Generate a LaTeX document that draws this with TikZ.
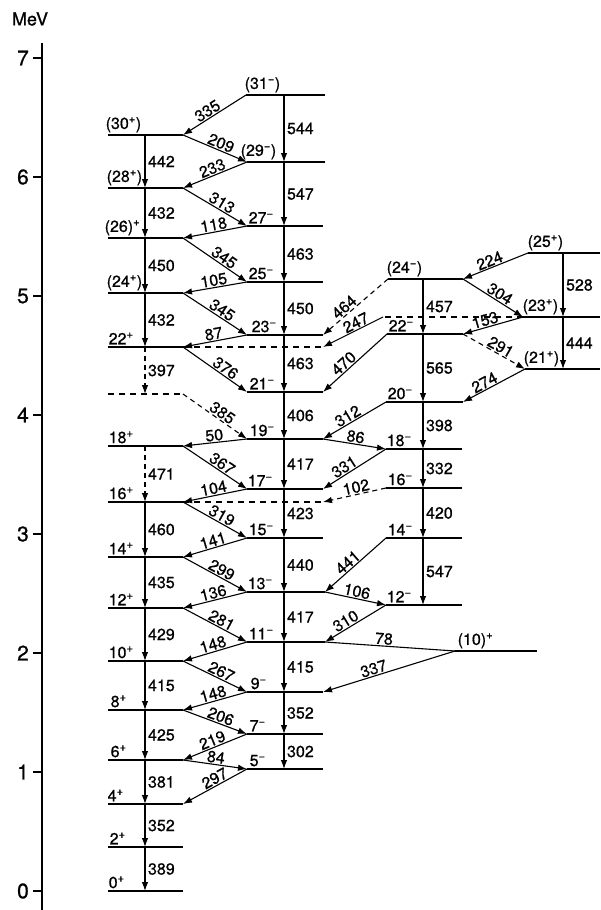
\documentclass[tikz,border=0pt]{standalone}
\usepackage{fontspec}
\setmainfont{TeX Gyre Heros}[FakeBold=0.8]
\usetikzlibrary{arrows.meta}
\newcommand\Pp{\textsuperscript{+}}
\newcommand\Mm{\textsuperscript{\char"2212}}
% name, xleft, xright, xvertical, y, label, label x
\newcommand\lv[7]{%
  \coordinate (#1L) at (#2,#5);
  \coordinate (#1R) at (#3,#5);
  \coordinate (#1V) at (#4,#5);
  \draw[lev] (#1L) -- (#1R);
  \node[el, anchor=south west] (#1t) at (#7,#5-2) {#6};
}
\begin{document}
\begin{tikzpicture}[x=1pt,y=-1pt,
  lev/.style={line width=1.5pt},
  tr/.style={line width=1.1pt,-{Latex[length=9pt,width=6.5pt]}},
  dtr/.style={tr,dash pattern=on 5pt off 4pt},
  dlev/.style={line width=1.3pt,dash pattern=on 6pt off 5pt},
  pl/.style={line width=1.1pt},
  el/.style={font=\fontsize{16}{18}\selectfont,inner sep=0.5pt},
  lab/.style={el,sloped,above,inner sep=1pt},
  vl/.style={el,right,xshift=2pt},
  tick/.style={line width=1.4pt},
  ax/.style={font=\fontsize{21}{23}\selectfont,inner sep=1pt,anchor=east}
]
\useasboundingbox (0,0) rectangle (600,910);
% axis
\coordinate (axT) at (42,43);
\coordinate (axB) at (42,910);
\draw[line width=2.2pt] (axT) -- (axB);
\node[font=\fontsize{18}{20}\selectfont,inner sep=0pt] (mev) at (30,19) {MeV};
\foreach \v in {0,...,7}{
  \coordinate (t\v) at (42,891-119*\v);
  \draw[tick] (t\v) -- ++(-9,0);
  \node[ax] (tl\v) at (30,891-119*\v) {\v};
}
% column A
\lv{A0}{108}{183}{145}{891}{0\Pp}{108}
\lv{A2}{108}{183}{145}{847}{2\Pp}{109}
\lv{A4}{108}{183}{145}{804}{4\Pp}{107}
\lv{A6}{108}{183}{145}{760}{6\Pp}{110}
\lv{A8}{108}{183}{145}{710}{8\Pp}{110}
\lv{A10}{108}{183}{145}{661}{10\Pp}{108}
\lv{A12}{108}{183}{145}{608}{12\Pp}{108}
\lv{A14}{108}{183}{145}{557}{14\Pp}{108}
\lv{A16}{108}{183}{145}{502}{16\Pp}{108}
\lv{A18}{108}{183}{145}{446}{18\Pp}{108}
\lv{A22}{108}{183}{145}{347}{22\Pp}{108}
\lv{A24}{108}{183}{145}{293}{(24\Pp)}{106}
\lv{A26}{108}{183}{145}{238}{(26)\Pp}{104}
\lv{A28}{108}{183}{145}{188}{(28\Pp)}{106}
\lv{A30}{108}{183}{145}{135}{(30\Pp)}{105}
\coordinate (A20L) at (108,394);
\coordinate (A20R) at (183,394);
\coordinate (A20V) at (145,394);
\draw[dlev] (A20L) -- (A20R);
\coordinate (A22X) at (323,347);
\coordinate (A16X) at (323,502);
\draw[dlev] (A22R) -- (A22X);
\draw[dlev] (A16R) -- (A16X);
% column B
\lv{B5}{247}{323}{284}{769}{5\Mm}{249}
\lv{B7}{247}{323}{284}{734}{7\Mm}{249}
\lv{B9}{247}{323}{284}{692}{9\Mm}{250}
\lv{B11}{247}{325}{284}{642}{11\Mm}{248}
\lv{B13}{247}{325}{284}{592}{13\Mm}{247}
\lv{B15}{247}{323}{284}{538}{15\Mm}{248}
\lv{B17}{247}{323}{284}{489}{17\Mm}{247}
\lv{B19}{247}{323}{284}{439}{19\Mm}{249}
\lv{B21}{247}{323}{284}{392}{21\Mm}{249}
\lv{B23}{247}{323}{284}{335}{23\Mm}{251}
\lv{B25}{247}{323}{284}{282}{25\Mm}{248}
\lv{B27}{247}{323}{284}{226}{27\Mm}{248}
\lv{B29}{247}{325}{284}{162}{(29\Mm)}{240}
\lv{B31}{246}{325}{284}{95}{(31\Mm)}{244}
% column C
\lv{C12}{386}{462}{423}{605}{12\Mm}{386}
\lv{C14}{386}{462}{423}{538}{14\Mm}{387}
\lv{C16}{386}{462}{423}{488}{16\Mm}{387}
\lv{C18}{386}{462}{423}{449}{18\Mm}{386}
\lv{C20}{386}{463}{423}{402}{20\Mm}{387}
\lv{C22}{387}{463}{423}{334}{22\Mm}{388}
\lv{C24}{388}{463}{423}{279}{(24\Mm)}{386}
% column D
\lv{D21}{525}{600}{563}{369}{(21\Pp)}{523}
\lv{D23}{523}{600}{563}{317}{(23\Pp)}{522}
\lv{D25}{528}{600}{563}{253}{(25\Pp)}{527}
\coordinate (D23X) at (383,317);
\draw[dlev] (D23L) -- (D23X);
% (10)+
\lv{E10}{455}{537}{495}{651}{(10)\Pp}{457}
% vertical transitions, column A
\draw[tr] (A2V) -- node[vl]{389} (A0V);
\draw[tr] (A4V) -- node[vl]{352} (A2V);
\draw[tr] (A6V) -- node[vl]{381} (A4V);
\draw[tr] (A8V) -- node[vl]{425} (A6V);
\draw[tr] (A10V) -- node[vl]{415} (A8V);
\draw[tr] (A12V) -- node[vl]{429} (A10V);
\draw[tr] (A14V) -- node[vl]{435} (A12V);
\draw[tr] (A16V) -- node[vl]{460} (A14V);
\draw[dtr] (A18V) -- node[vl]{471} (A16V);
\draw[dtr] (A22V) -- node[vl]{397} (A20V);
\draw[tr] (A24V) -- node[vl]{432} (A22V);
\draw[tr] (A26V) -- node[vl]{450} (A24V);
\draw[tr] (A28V) -- node[vl]{432} (A26V);
\draw[tr] (A30V) -- node[vl]{442} (A28V);
% vertical transitions, column B
\draw[tr] (B7V) -- node[vl]{302} (B5V);
\draw[tr] (B9V) -- node[vl]{352} (B7V);
\draw[tr] (B11V) -- node[vl]{415} (B9V);
\draw[tr] (B13V) -- node[vl]{417} (B11V);
\draw[tr] (B15V) -- node[vl]{440} (B13V);
\draw[tr] (B17V) -- node[vl]{423} (B15V);
\draw[tr] (B19V) -- node[vl]{417} (B17V);
\draw[tr] (B21V) -- node[vl]{406} (B19V);
\draw[tr] (B23V) -- node[vl]{463} (B21V);
\draw[tr] (B25V) -- node[vl]{450} (B23V);
\draw[tr] (B27V) -- node[vl]{463} (B25V);
\draw[tr] (B29V) -- node[vl]{547} (B27V);
\draw[tr] (B31V) -- node[vl]{544} (B29V);
% vertical transitions, column C
\draw[tr] (C14V) -- node[vl]{547} (C12V);
\draw[tr] (C16V) -- node[vl]{420} (C14V);
\draw[tr] (C18V) -- node[vl]{332} (C16V);
\draw[tr] (C20V) -- node[vl]{398} (C18V);
\draw[tr] (C22V) -- node[vl]{565} (C20V);
\draw[tr] (C24V) -- node[vl]{457} (C22V);
% vertical transitions, column D
\draw[tr] (D25V) -- node[vl]{528} (D23V);
\draw[tr] (D23V) -- node[vl]{444} (D21V);
% A <-> B crossings
\draw[tr] (B5L) -- node[lab,pos=0.45]{297} (A4R);
\draw[tr] (A6R) -- node[lab]{84} (B5L);
\draw[tr] (B7L) -- node[lab]{219} (A6R);
\draw[tr] (A8R) -- node[lab,pos=0.55]{206} (B7L);
\draw[tr] (B9L) -- node[lab]{148} (A8R);
\draw[tr] (A10R) -- node[lab,pos=0.55]{267} (B9L);
\draw[tr] (B11L) -- node[lab]{148} (A10R);
\draw[tr] (A12R) -- node[lab,pos=0.55]{281} (B11L);
\draw[tr] (B13L) -- node[lab]{136} (A12R);
\draw[tr] (A14R) -- node[lab,pos=0.55]{299} (B13L);
\draw[tr] (B15L) -- node[lab]{141} (A14R);
\draw[tr] (A16R) -- node[lab,pos=0.55]{319} (B15L);
\draw[tr] (B17L) -- node[lab]{104} (A16R);
\draw[tr] (A18R) -- node[lab,pos=0.55]{367} (B17L);
\draw[tr] (B19L) -- node[lab,pos=0.5]{50} (A18R);
\draw[dtr] (A20R) -- node[lab,pos=0.55]{385} (B19L);
\draw[tr] (A22R) -- node[lab,pos=0.6]{376} (B21L);
\draw[tr] (B23L) -- node[lab]{87} (A22R);
\draw[tr] (A24R) -- node[lab,pos=0.55]{345} (B23L);
\draw[tr] (B25L) -- node[lab]{105} (A24R);
\draw[tr] (A26R) -- node[lab,pos=0.58]{345} (B25L);
\draw[tr] (B27L) -- node[lab]{118} (A26R);
\draw[tr] (A28R) -- node[lab,pos=0.55]{313} (B27L);
\draw[tr] (B29L) -- node[lab]{233} (A28R);
\draw[tr] (A30R) -- node[lab,pos=0.55]{209} (B29L);
\draw[tr] (B31L) -- node[lab,pos=0.55]{335} (A30R);
% B <-> C crossings
\draw[dtr] (C24L) -- node[lab,pos=0.6]{464} (B23R);
\draw[tr] (D23X) -- node[lab,pos=0.4]{247} (A22X);
\draw[tr] (C22L) -- node[lab,pos=0.6]{470} (B21R);
\draw[tr] (C20L) -- node[lab,pos=0.55]{312} (B19R);
\draw[tr] (B19R) -- node[lab,pos=0.5]{86} (C18L);
\draw[tr] (C18L) -- node[lab,pos=0.6]{331} (B17R);
\draw[dtr] (C16L) -- node[lab,pos=0.45]{102} (A16X);
\draw[tr] (C14L) -- node[lab,pos=0.55]{441} (B13R);
\draw[tr] (B13R) -- node[lab,pos=0.5]{106} (C12L);
\draw[tr] (C12L) -- node[lab,pos=0.6]{310} (B11R);
\draw[pl] (B11R) -- node[lab,pos=0.45]{78} (E10L);
\draw[tr] (E10L) -- node[lab,pos=0.6]{337} (B9R);
% C <-> D crossings
\draw[tr] (D25L) -- node[lab,pos=0.55]{224} (C24R);
\draw[tr] (C24R) -- node[lab,pos=0.55]{304} (D23L);
\draw[tr] (D23L) -- node[lab,pos=0.6]{153} (C22R);
\draw[dtr] (C22R) -- node[lab,pos=0.55]{291} (D21L);
\draw[tr] (D21L) -- node[lab,pos=0.6]{274} (C20R);
\end{tikzpicture}
\end{document}
